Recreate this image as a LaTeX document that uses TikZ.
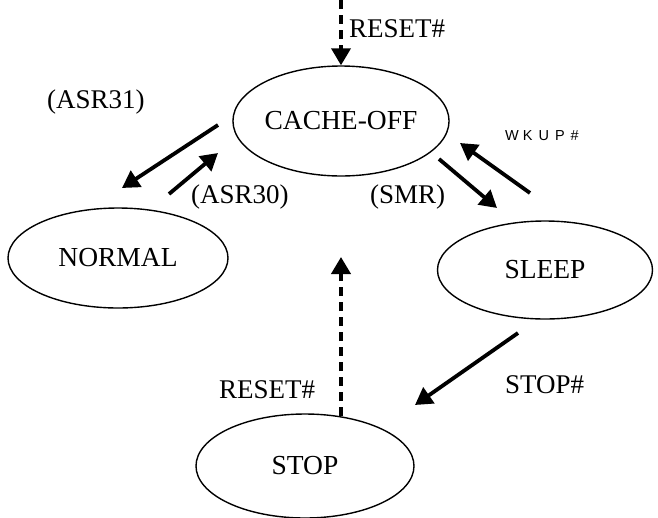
\documentclass[tikz,border=0pt]{standalone}
\usepackage{fontspec}
\setmainfont{Liberation Serif}
\newfontfamily\wkfont{Liberation Sans}
\usetikzlibrary{arrows.meta,shapes.geometric}
\begin{document}
\begin{tikzpicture}[x=1pt,y=-1pt,
  state/.style={draw,line width=1.4pt,ellipse,minimum width=#1,inner sep=0pt},
  lbl/.style={inner sep=0pt,anchor=west,font=\fontsize{27}{30}\selectfont},
  sfont/.style={font=\fontsize{27.5}{30}\selectfont},
  trans/.style={line width=3.8pt,-{Triangle[length=17pt,width=19pt]}},
  dtrans/.style={trans,dash pattern=on 9pt off 6pt}]
\useasboundingbox (0,0) rectangle (658,517);
\node[state=214pt,minimum height=110pt,sfont] (cache) at (341,121) {CACHE-OFF};
\node[state=220pt,minimum height=100pt,sfont] (normal) at (118,258) {NORMAL};
\node[state=215pt,minimum height=98pt,sfont] (sleep) at (545,270) {SLEEP};
\node[state=218pt,minimum height=104pt,sfont] (stop) at (305,466) {STOP};
\coordinate (rtop) at (341,0);
\coordinate (a31s) at (218,125); \coordinate (a31e) at (122,188);
\coordinate (a30s) at (169,194); \coordinate (a30e) at (218,153);
\coordinate (smrs) at (439,159); \coordinate (smre) at (497,208);
\coordinate (wks) at (530,193); \coordinate (wke) at (460,143);
\coordinate (sts) at (518,333); \coordinate (ste) at (415,405);
\coordinate (rbs) at (341,416); \coordinate (rbe) at (341,257);
\draw[dtrans] (rtop) -- (cache.north);
\draw[trans] (a31s) -- (a31e);
\draw[trans] (a30s) -- (a30e);
\draw[trans] (smrs) -- (smre);
\draw[trans] (wks) -- (wke);
\draw[trans] (sts) -- (ste);
\draw[dtrans] (rbs) -- (rbe);
\node[lbl] (l1) at (349,29) {RESET\#};
\node[lbl] (l2) at (47,102) {(ASR31)};
\node[lbl] (l3) at (191,197) {(ASR30)};
\node[lbl] (l4) at (370,197) {(SMR)};
\node[lbl] (l5) at (505,385) {STOP\#};
\node[lbl] (l6) at (219,390) {RESET\#};
\node[inner sep=0pt,anchor=west,font=\wkfont\fontsize{14.5}{16}\selectfont] (l7) at (505,136)
  {W\hspace{4pt}K\hspace{6pt}U\hspace{6pt}P\hspace{6pt}\#};
\end{tikzpicture}
\end{document}
